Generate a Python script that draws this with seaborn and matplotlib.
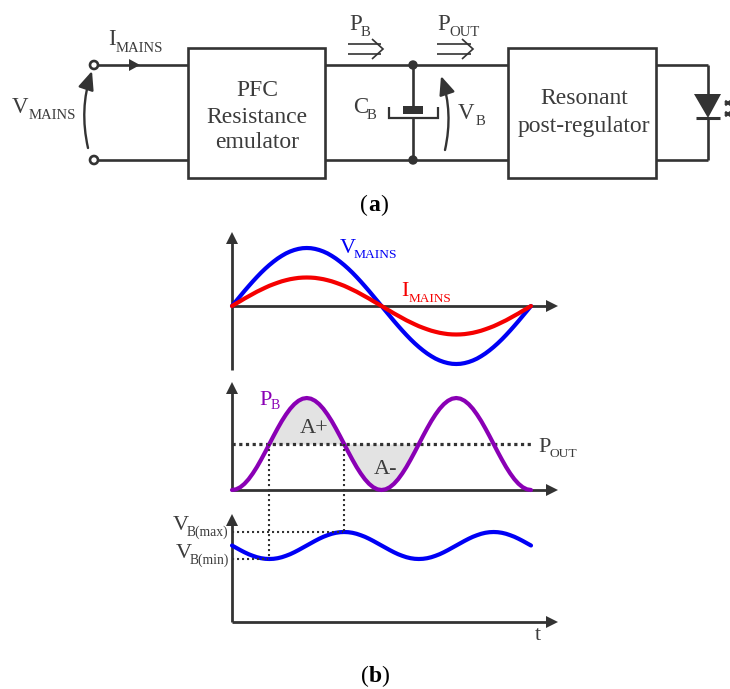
import numpy as np
import pandas as pd
import seaborn as sns
import matplotlib
matplotlib.use("Agg")
import matplotlib.pyplot as plt
from matplotlib.patches import Rectangle, Circle, Polygon, FancyArrowPatch

# waveforms, one point every 1/72 of the mains period
t_steps = list(range(73))
v_mains = [0, 5, 10, 15, 19.8, 24.5, 29, 33.3, 37.3, 41, 44.4, 47.5, 50.2, 52.6, 54.5, 56, 57.1, 57.8,
           58, 57.8, 57.1, 56, 54.5, 52.6, 50.2, 47.5, 44.4, 41, 37.3, 33.3, 29, 24.5, 19.8, 15, 10, 5,
           0, -5, -10, -15, -19.8, -24.5, -29, -33.3, -37.3, -41, -44.4, -47.5, -50.2, -52.6, -54.5, -56, -57.1, -57.8,
           -58, -57.8, -57.1, -56, -54.5, -52.6, -50.2, -47.5, -44.4, -41, -37.3, -33.3, -29, -24.5, -19.8, -15, -10, -5, 0]
i_mains = [0, 2.5, 4.9, 7.4, 9.7, 12, 14.3, 16.3, 18.3, 20.2, 21.8, 23.3, 24.7, 25.8, 26.8, 27.5, 28.1, 28.4,
           28.5, 28.4, 28.1, 27.5, 26.8, 25.8, 24.7, 23.3, 21.8, 20.2, 18.3, 16.3, 14.3, 12, 9.7, 7.4, 4.9, 2.5,
           0, -2.5, -4.9, -7.4, -9.7, -12, -14.3, -16.3, -18.3, -20.2, -21.8, -23.3, -24.7, -25.8, -26.8, -27.5, -28.1, -28.4,
           -28.5, -28.4, -28.1, -27.5, -26.8, -25.8, -24.7, -23.3, -21.8, -20.2, -18.3, -16.3, -14.3, -12, -9.7, -7.4, -4.9, -2.5, 0]
p_b = [0, 0.7, 2.8, 6.2, 10.8, 16.5, 23, 30.3, 38, 46, 54, 61.7, 69, 75.5, 81.2, 85.8, 89.2, 91.3,
       92, 91.3, 89.2, 85.8, 81.2, 75.5, 69, 61.7, 54, 46, 38, 30.3, 23, 16.5, 10.8, 6.2, 2.8, 0.7,
       0, 0.7, 2.8, 6.2, 10.8, 16.5, 23, 30.3, 38, 46, 54, 61.7, 69, 75.5, 81.2, 85.8, 89.2, 91.3,
       92, 91.3, 89.2, 85.8, 81.2, 75.5, 69, 61.7, 54, 46, 38, 30.3, 23, 16.5, 10.8, 6.2, 2.8, 0.7, 0]
v_b = [76.5, 74.2, 71.9, 69.75, 67.8, 66.2, 64.8, 63.8, 63.2, 63, 63.2, 63.8, 64.8, 66.2, 67.8, 69.75, 71.9, 74.2,
       76.5, 78.8, 81.1, 83.25, 85.2, 86.8, 88.2, 89.2, 89.8, 90, 89.8, 89.2, 88.2, 86.8, 85.2, 83.25, 81.1, 78.8,
       76.5, 74.2, 71.9, 69.75, 67.8, 66.2, 64.8, 63.8, 63.2, 63, 63.2, 63.8, 64.8, 66.2, 67.8, 69.75, 71.9, 74.2,
       76.5, 78.8, 81.1, 83.25, 85.2, 86.8, 88.2, 89.2, 89.8, 90, 89.8, 89.2, 88.2, 86.8, 85.2, 83.25, 81.1, 78.8, 76.5]
p_out = 46
t_cross = [9, 27, 45]

W, H = 730, 689
DARK = "#333333"
GREY = "#3c3c3c"
BLUE = "#0000f5"
RED = "#f50000"
PURPLE = "#8a00b5"
FONT = "Liberation Serif"

sns.set_theme(style="white")
plt.rcParams['font.family'] = [FONT, 'DejaVu Sans']

fig = plt.figure(figsize=(W / 100, H / 100), dpi=100, facecolor="white")


def pixel_axes(z):
    ax = fig.add_axes([0, 0, 1, 1], zorder=z)
    ax.set_xlim(0, W)
    ax.set_ylim(H, 0)
    ax.axis("off")
    ax.patch.set_alpha(0)
    return ax


def panel_axes(top, bottom, ymin, ymax):
    # axes spanning the px box of one waveform
    ax = fig.add_axes([232 / W, 1 - bottom / H, 299 / W, (bottom - top) / H], zorder=2)
    ax.patch.set_alpha(0)
    return ax, ymin, ymax


back = pixel_axes(1)
front = pixel_axes(3)


def wire(x, y, lw=1.9, color=DARK, ax=front, **kw):
    ax.plot(x, y, color=color, lw=lw, solid_capstyle="butt", solid_joinstyle="miter", **kw)


def label(x, y, main, sub=None, sub_x=None, sub_y=None, color=GREY, size=16.5, sub_size=10.6):
    front.text(x, y, main, color=color, fontsize=size, va="baseline", ha="left")
    if sub:
        front.text(sub_x, sub_y, sub, color=color, fontsize=sub_size, va="baseline", ha="left")


def centered(x, y, s):
    front.text(x, y, s, color=GREY, fontsize=17, va="baseline", ha="center")


def axis_arrows(ax, x0, y0, ytip, xtip, ylow=None):
    wire([x0, x0], [ylow if ylow else y0, ytip + 10], ax=ax, lw=2)
    wire([x0, xtip - 10], [y0, y0], ax=ax, lw=2)
    ax.add_patch(Polygon([[x0 - 6, ytip + 12], [x0 + 6, ytip + 12], [x0, ytip]], color=DARK, lw=0))
    ax.add_patch(Polygon([[xtip - 12, y0 - 6], [xtip - 12, y0 + 6], [xtip, y0]], color=DARK, lw=0))


def curved_arrow(x1, y1, x2, y2, rad):
    front.add_patch(FancyArrowPatch((x1, y1), (x2, y2), connectionstyle=f"arc3,rad={rad}",
                                    arrowstyle="-|>,head_length=0.7,head_width=0.3", mutation_scale=16,
                                    color=DARK, lw=1.7, shrinkA=0, shrinkB=0))


def double_arrow(x1, x2):
    wire([x1, x2 - 2], [44, 44], lw=1.2)
    wire([x1, x2 - 2], [54, 54], lw=1.2)
    wire([x2 - 11, x2, x2 - 11], [39, 49, 59], lw=1.2)


# --- (a) schematic ---
for x0, x1 in [(188, 325), (508, 656)]:
    front.add_patch(Rectangle((x0, 48), x1 - x0, 130, fill=False, ec=DARK, lw=1.9))

for y in [65, 160]:
    wire([98, 188], [y, y])
    wire([325, 508], [y, y])
    wire([656, 708], [y, y])
    front.add_patch(Circle((94, y), 4, fc="white", ec=DARK, lw=1.9))
    front.add_patch(Circle((413, y), 4.7, color=DARK, lw=0))

front.add_patch(Polygon([[129, 59], [129, 71], [140, 65]], color=DARK, lw=0))
curved_arrow(88, 148, 92, 71, -0.14)
curved_arrow(445, 150, 441, 76, 0.14)

# capacitor
wire([413, 413], [65, 106])
front.add_patch(Rectangle((403, 106), 20, 8, color=DARK, lw=0))
wire([389, 389, 438, 438], [107, 118, 118, 107], lw=1.6)
wire([413, 413], [118, 160])

# led
wire([708, 708], [65, 95])
wire([708, 708], [117, 160])
front.add_patch(Polygon([[694, 94], [721, 94], [708, 118]], color=DARK, lw=0))
wire([696, 720], [118, 118], lw=2.2)
for star_y in [103, 114]:
    wire([725, 731], [star_y - 2, star_y + 2], lw=2)
    wire([725, 731], [star_y + 2, star_y - 2], lw=2)

double_arrow(348, 383)
double_arrow(437, 473)

label(108, 45, "I", "MAINS", 116, 52)
label(12, 113, "V", "MAINS", 29, 119)
label(349, 30, "P", "B", 361, 36)
label(437, 30, "P", "OUT", 449, 36)
label(353, 113, "C", "B", 367, 119)
label(458, 119, "V", "B", 476, 125)
centered(257, 96, "PFC")
centered(257, 123, "Resistance")
centered(257, 148, "emulator")
centered(584, 104, "Resonant")
centered(584, 132, "post-regulator")
for cap_x, letter, cap_y in [(374, "a", 211), (375, "b", 682)]:
    front.text(cap_x - 10, cap_y, "(", color="black", fontsize=17, va="baseline", ha="center")
    front.text(cap_x, cap_y, letter, color="black", fontsize=17, va="baseline", ha="center", fontweight="bold")
    front.text(cap_x + 10, cap_y, ")", color="black", fontsize=17, va="baseline", ha="center")

# --- (b) waveforms ---
axis_arrows(back, 232, 306, 232, 558, ylow=370)
axis_arrows(back, 232, 490, 382, 558)
axis_arrows(back, 232, 622, 514, 558)

wave = pd.DataFrame({"t": t_steps, "v_mains": v_mains, "i_mains": i_mains, "p_b": p_b, "v_b": v_b})

ax1, lo1, hi1 = panel_axes(246, 366, -60, 60)
sns.lineplot(data=wave, x="t", y="v_mains", color=BLUE, lw=3, ax=ax1, clip_on=False)
sns.lineplot(data=wave, x="t", y="i_mains", color=RED, lw=3, ax=ax1, clip_on=False)

ax2, lo2, hi2 = panel_axes(390, 490, 0, 100)
t_arr = np.array(t_steps)
p_arr = np.array(p_b, dtype=float)
ax2.fill_between(t_arr, p_arr, p_out, where=(t_arr >= t_cross[0]) & (t_arr <= t_cross[2]),
                 color="#e3e3e3", lw=0)
ax2.plot([0, 72], [p_out, p_out], color=DARK, lw=2.3, ls=(0, (1, 1.1)))
sns.lineplot(data=wave, x="t", y="p_b", color=PURPLE, lw=3, ax=ax2, clip_on=False)

ax3, lo3, hi3 = panel_axes(522, 622, 0, 100)
sns.lineplot(data=wave, x="t", y="v_b", color=BLUE, lw=3, ax=ax3, clip_on=False)

for ax, lo, hi in [(ax1, lo1, hi1), (ax2, lo2, hi2), (ax3, lo3, hi3)]:
    ax.set_xlim(0, 72)
    ax.set_ylim(lo, hi)
    ax.axis("off")

# dotted guides between the panels
front.plot([269, 269], [444, 559], color=DARK, lw=1.5, ls=(0, (1, 1.4)))
front.plot([344, 344], [444, 532], color=DARK, lw=1.5, ls=(0, (1, 1.4)))
front.plot([232, 343], [532, 532], color=DARK, lw=1.5, ls=(0, (1, 1.4)))
front.plot([232, 268], [559, 559], color=DARK, lw=1.5, ls=(0, (1, 1.4)))

label(340, 253, "V", "MAINS", 354, 258, color=BLUE, size=16, sub_size=9.7)
label(401, 296, "I", "MAINS", 409, 302, color=RED, size=16, sub_size=9.5)
label(259, 405, "P", "B", 271, 409, color=PURPLE, size=16, sub_size=10)
label(538, 452, "P", "OUT", 549, 457, size=16, sub_size=9.7)
label(300, 433, "A+", size=16)
label(374, 474, "A-", size=16)
label(173, 530, "V", "B(max)", 187, 536, size=16, sub_size=9.8)
label(176, 558, "V", "B(min)", 190, 564, size=16, sub_size=9.8)
label(535, 640, "t", size=16)

plt.savefig("out.png", dpi=100)
